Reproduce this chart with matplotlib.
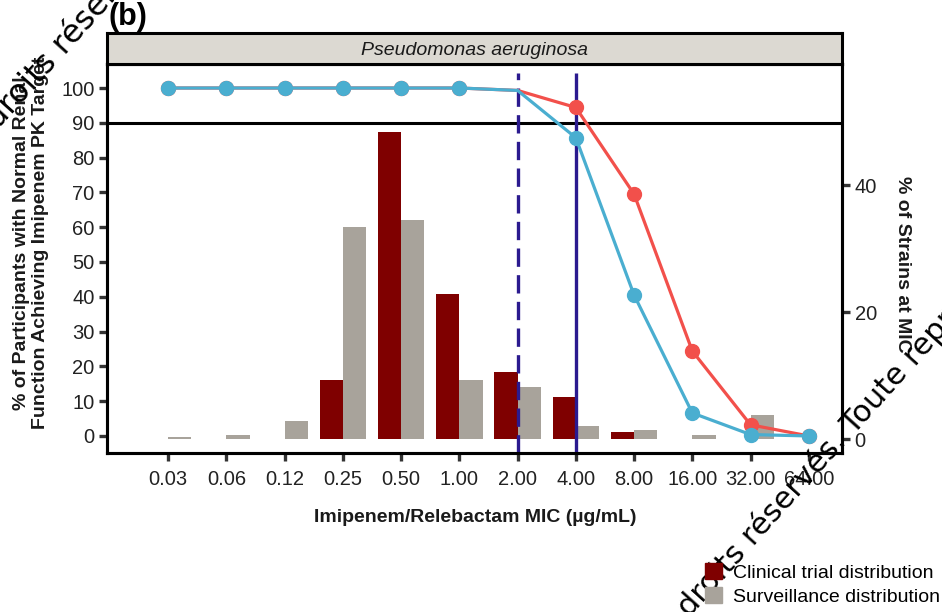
import numpy as np
import matplotlib.pyplot as plt
from matplotlib.patches import Patch

# MIC categories (x axis) and values
mic_labels = ["0.03", "0.06", "0.12", "0.25", "0.50", "1.00",
              "2.00", "4.00", "8.00", "16.00", "32.00", "64.00"]
clinical_pct = [0, 0, 0, 9.3, 48.4, 22.9, 10.6, 6.6, 1.1, 0, 0, 0]
surveillance_pct = [0.3, 0.7, 2.8, 33.4, 34.5, 9.3, 8.2, 2.1, 1.4, 0.7, 3.8, 0]
pta_red = [100, 100, 100, 100, 100, 100, 99.3, 94.4, 69.5, 24.4, 3.2, 0]
pta_blue = [100, 100, 100, 100, 100, 100, 99.3, 85.7, 40.5, 6.6, 0.4, 0]
no_marker_at = "2.00"
breakpoints = ["2.00", "4.00"]
pk_target = 90

plt.rcParams["font.family"] = ["Liberation Sans", "DejaVu Sans"]

W, H = 942, 612
fig = plt.figure(figsize=(W / 100, H / 100), dpi=100)


def fx(px):
    return px / W


def fy(py):
    return 1 - py / H


L, R, T, B, ST = 107, 842, 64, 453, 33
ax = fig.add_axes([fx(L), fy(B), fx(R) - fx(L), fy(T) - fy(B)])
x = np.arange(len(mic_labels))

# bars on the strain axis (right)
ax.bar(x - 0.2, clinical_pct, width=0.4, color="#7f0000", zorder=2)
ax.bar(x + 0.2, surveillance_pct, width=0.4, color="#a8a39b", zorder=2)
ax.set_xlim(-1.05, 11.57)
ax.set_ylim(-2.2, 59.06)
ax.set_yticks([0, 20, 40])
ax.set_xticks(x)
ax.set_xticklabels(mic_labels)

# lines on the PTA axis (left)
ax2 = ax.twinx()
ax.yaxis.tick_right()
ax2.yaxis.tick_left()
ax2.set_ylim(-4.9, 106.9)
ax2.set_yticks(range(0, 101, 10))
ax2.axhline(pk_target, color="black", lw=2.2, zorder=1)
for i in [mic_labels.index(b) for b in breakpoints]:
    ax2.vlines(x[i], -4.9, 104.3, color="#2b1a8f", lw=2.4,
               linestyles=(0, (5.5, 2.5)) if i == mic_labels.index(breakpoints[0]) else "solid")
marks = [i for i in range(len(x)) if mic_labels[i] != no_marker_at]
ax2.plot(x, pta_red, color="#f2504b", lw=2.3, marker="o", ms=10, markevery=marks)
ax2.plot(x, pta_blue, color="#4aaed0", lw=2.3, marker="o", ms=10, markevery=marks)

for a in (ax, ax2):
    for s in a.spines.values():
        s.set_linewidth(2.2)
    a.tick_params(length=6, width=2.4, color="#333333", labelsize=14.5,
                  labelcolor="#222222", pad=3)
ax.tick_params(axis="x", pad=6)

# facet strip
strip = fig.add_axes([fx(L), fy(T), fx(R) - fx(L), fy(ST) - fy(T)])
strip.set_facecolor("#dcd9d2")
strip.set_xticks([])
strip.set_yticks([])
for s in strip.spines.values():
    s.set_linewidth(2.2)
strip.text(0.5, 0.45, "Pseudomonas aeruginosa", style="italic", fontsize=14,
           ha="center", va="center", color="#1a1a1a", transform=strip.transAxes)

fig.text(fx(31), fy(243),
         "% of Participants with Normal Renal\nFunction Achieving Imipenem PK Target",
         rotation=90, ha="center", va="center", fontsize=14, fontweight="bold",
         linespacing=1.15, color="#1a1a1a")
fig.text(fx(903), fy(264), "% of Strains at MIC", rotation=270, ha="center",
         va="center", fontsize=14, fontweight="bold", color="#1a1a1a")
fig.text(fx(475), fy(517), "Imipenem/Relebactam MIC (µg/mL)", ha="center",
         va="center", fontsize=14, fontweight="bold", color="#1a1a1a")
fig.text(fx(108), fy(25), "(b)", fontsize=22, fontweight="bold", va="baseline")

fig.legend(handles=[Patch(color="#7f0000", label="Clinical trial distribution"),
                    Patch(color="#a8a39b", label="Surveillance distribution")],
           loc="upper left", bbox_to_anchor=(fx(705), fy(563)), frameon=False,
           fontsize=14, handlelength=0.88, handleheight=0.88, handletextpad=0.55,
           labelspacing=0.3, borderpad=0, borderaxespad=0)

# watermark
wm = "droits réservés. Toute reproduction interdite"
fig.text(fx(-2), fy(130), wm, rotation=48, rotation_mode="anchor", fontsize=23,
         family="DejaVu Sans", ha="left", va="baseline")
fig.text(fx(690), fy(618), wm, rotation=48, rotation_mode="anchor", fontsize=22,
         family="DejaVu Sans", ha="left", va="baseline")

fig.savefig("out.png", dpi=100)
